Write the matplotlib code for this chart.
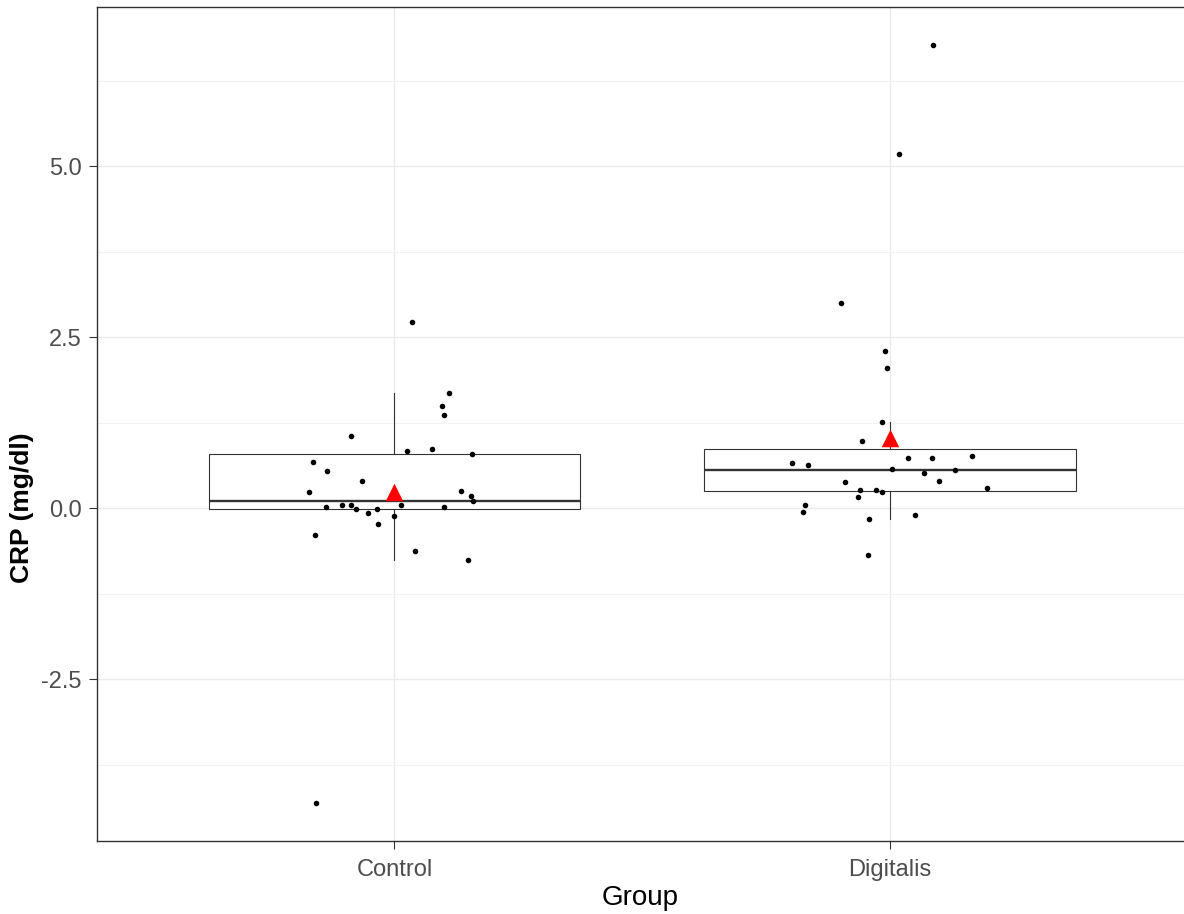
import numpy as np
import matplotlib
matplotlib.use("Agg")
import matplotlib.pyplot as plt
from matplotlib.ticker import MultipleLocator

groups = ["Control", "Digitalis"]

# CRP values, with the horizontal jitter seen for each point
control_crp = [1.68, 1.49, 1.365, 1.058, 0.839, 0.868, 0.795, 0.674, 0.551, 0.396,
               0.244, 0.259, 0.181, 0.104, 0.016, 0.045, 0.045, -0.004, -0.063, -0.004,
               0.045, 0.016, -0.111, -0.233, -0.384, -0.618, -0.754, 2.724, -4.31]
control_jit = [0.110, 0.096, 0.100, -0.087, 0.026, 0.075, 0.157, -0.165, -0.135, -0.065,
               -0.173, 0.134, 0.155, 0.159, -0.139, -0.105, -0.088, -0.078, -0.054, -0.035,
               0.013, 0.100, -0.001, -0.033, -0.160, 0.041, 0.149, 0.036, -0.159]

digitalis_crp = [3.002, 2.30, 2.052, 1.258, 0.981, 0.659, 0.630, 0.737, 0.737, 0.766,
                 0.580, 0.522, 0.566, 0.386, 0.400, 0.303, 0.273, 0.273, 0.244, 0.167,
                 0.045, -0.048, -0.096, -0.155, -0.68, 6.777, 5.18]
digitalis_jit = [-0.100, -0.011, -0.007, -0.016, -0.056, -0.198, -0.166, 0.037, 0.084, 0.166,
                 0.003, 0.069, 0.130, -0.090, 0.098, 0.196, -0.060, -0.028, -0.016, -0.065,
                 -0.172, -0.176, 0.050, -0.043, -0.044, 0.086, 0.018]

data = [np.array(control_crp), np.array(digitalis_crp)]
jitter = [np.array(control_jit), np.array(digitalis_jit)]

plt.rcParams["font.family"] = ["Liberation Sans", "DejaVu Sans"]

fig = plt.figure(figsize=(11.84, 9.14), dpi=100)
ax = fig.add_axes([97 / 1184, 73 / 914, 1 - 97 / 1184, 834 / 914])

pos = np.arange(1, len(groups) + 1)

# grid (theme_bw-like)
ax.set_axisbelow(True)
ax.yaxis.set_minor_locator(MultipleLocator(1.25))
ax.yaxis.set_major_locator(MultipleLocator(2.5))
ax.grid(which="major", color="#EBEBEB", linewidth=1.0)
ax.grid(which="minor", axis="y", color="#F2F2F2", linewidth=0.8)

ax.boxplot(data, positions=pos, widths=0.75, showfliers=False, patch_artist=True,
           whis=1.5, zorder=2,
           boxprops=dict(facecolor="white", edgecolor="#333333", linewidth=0.8),
           whiskerprops=dict(color="#333333", linewidth=0.8),
           capprops=dict(linewidth=0),
           medianprops=dict(color="#333333", linewidth=1.7))

for p, vals, jit in zip(pos, data, jitter):
    ax.scatter(p + jit, vals, s=16, color="black", zorder=3, linewidths=0)
    ax.scatter([p], [vals.mean()], marker="^", s=160, color="#FF0000", zorder=4, linewidths=0)

ax.set_xlim(0.4, 2.593)
ax.set_ylim(-4.861, 7.328)
ax.set_xticks(pos)
ax.set_xticklabels(groups)
ax.set_yticks([-2.5, 0, 2.5, 5.0])
ax.set_yticklabels(["-2.5", "0.0", "2.5", "5.0"])
ax.tick_params(axis="both", which="major", labelsize=17, labelcolor="#4D4D4D",
               color="#333333", length=6, width=0.8)
ax.tick_params(axis="x", which="major", pad=7)
ax.tick_params(axis="y", which="major", pad=5)
ax.tick_params(axis="y", which="minor", length=0)

for side in ["left", "bottom", "top"]:
    ax.spines[side].set_color("#333333")
    ax.spines[side].set_linewidth(1.0)
ax.spines["right"].set_visible(False)

ax.set_xlabel("Group", fontsize=20, color="black", labelpad=3)
ax.set_ylabel("CRP (mg/dl)", fontsize=19, fontweight="bold", color="black")
ax.yaxis.set_label_coords(-0.058, 0.40)

fig.savefig("out.png", dpi=100)
